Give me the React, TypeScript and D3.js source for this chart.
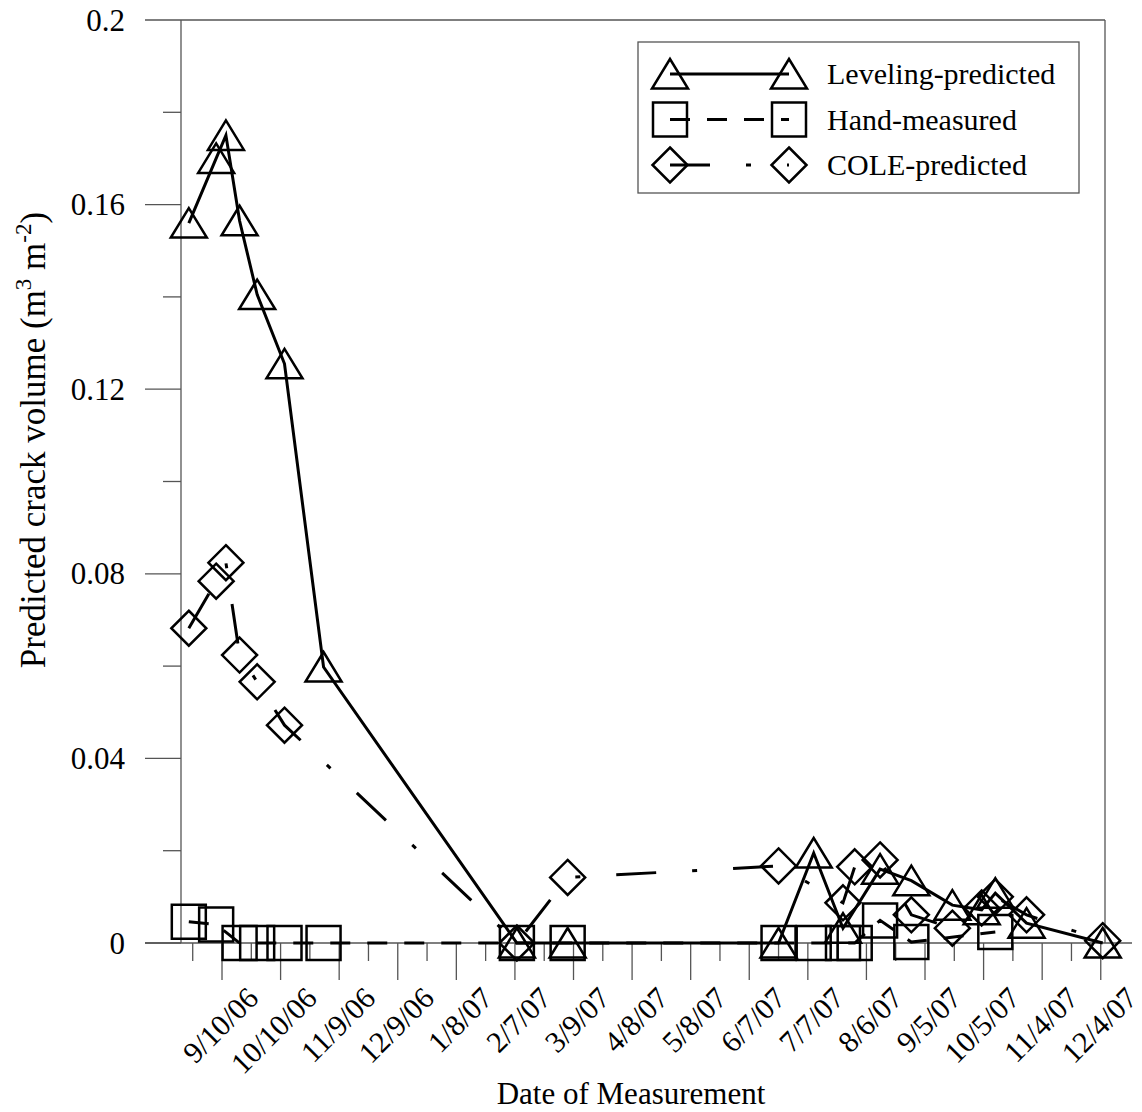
import React from "react";
import * as d3 from "d3";

// ---- data ----
const dates = [
  "2006-08-24", "2006-09-07", "2006-09-12", "2006-09-19", "2006-09-28",
  "2006-10-12", "2006-11-01", "2007-02-08", "2007-03-06", "2007-06-22",
  "2007-07-10", "2007-07-25", "2007-07-31", "2007-08-13", "2007-08-29",
  "2007-09-19", "2007-10-04", "2007-10-11", "2007-10-27", "2007-12-05",
];
const leveling: (number | null)[] = [
  0.156, 0.17, 0.175, 0.1565, 0.1405, 0.1255, 0.0598, 0, 0, 0,
  0.0195, 0.0032, null, 0.016, 0.0135, 0.0082, 0.0072, 0.0108, 0.0043, 0,
];
const handMeasured: (number | null)[] = [
  0.0046, 0.004, null, 0, 0, 0, 0, 0, 0, 0,
  0, 0, 0, 0.0049, 0.0002, null, null, 0.0024, null, null,
];
const colePredicted: (number | null)[] = [
  0.0682, 0.0784, 0.0824, 0.0624, 0.0566, 0.0472, null, 0, 0.0142, 0.0167,
  null, 0.0087, 0.0165, 0.018, 0.0061, 0.0032, 0.0076, 0.01, 0.0061, 0.0005,
];
const seriesNames = ["Leveling-predicted", "Hand-measured", "COLE-predicted"];
const xTickLabels = [
  "9/10/06", "10/10/06", "11/9/06", "12/9/06", "1/8/07", "2/7/07", "3/9/07", "4/8/07",
  "5/8/07", "6/7/07", "7/7/07", "8/6/07", "9/5/07", "10/5/07", "11/4/07", "12/4/07",
];
const yTicks = [0, 0.04, 0.08, 0.12, 0.16, 0.2];
const yTickLabels = ["0", "0.04", "0.08", "0.12", "0.16", "0.2"];
const yMinorTicks = [0.02, 0.06, 0.1, 0.14, 0.18];

const FONT = "'Liberation Serif', 'Times New Roman', serif";

function parseISO(s: string) {
  const [y, m, d] = s.split("-").map(Number);
  return new Date(y, m - 1, d);
}
function parseMDY(s: string) {
  const [m, d, y] = s.split("/").map(Number);
  return new Date(2000 + y, m - 1, d);
}

const L = 181, T = 20, B = 943, RB = 1105;
const x = d3.scaleTime().domain([new Date(2006, 7, 20), new Date(2007, 11, 20)]).range([L, 1132]);
const y = d3.scaleLinear().domain([0, 0.2]).range([B, T]);

type Shape = "tri" | "sq" | "dia";
function markerPath(shape: Shape, cx: number, cy: number) {
  if (shape === "tri") return `M${cx},${cy - 15}L${cx + 18},${cy + 14.5}L${cx - 18},${cy + 14.5}Z`;
  if (shape === "sq") return `M${cx - 17},${cy - 17}h34v34h-34Z`;
  return `M${cx},${cy - 17.5}L${cx + 17.5},${cy}L${cx},${cy + 17.5}L${cx - 17.5},${cy}Z`;
}

const styles: { shape: Shape; dash: string }[] = [
  { shape: "tri", dash: "none" },
  { shape: "sq", dash: "20 17" },
  { shape: "dia", dash: "40 36 5 36" },
];

export default function App() {
  const all = [leveling, handMeasured, colePredicted];
  const pts = all.map((vals) =>
    dates
      .map((d, i) => ({ d: parseISO(d), v: vals[i] }))
      .filter((p) => p.v !== null) as { d: Date; v: number }[]
  );
  const line = d3.line<{ d: Date; v: number }>().x((p) => x(p.d)).y((p) => y(p.v));

  const majorDates = xTickLabels.map(parseMDY);
  const minorDates: Date[] = [];
  for (let k = -1; k < 31; k++) {
    const dd = d3.timeDay.offset(majorDates[0], 15 * k);
    if (k % 2 !== 0 && x(dd) >= L && x(dd) <= 1132) minorDates.push(dd);
  }

  const axisColor = "#555";

  return (
    <svg width={1142} height={1112} style={{ display: "block", position: "absolute", left: 0, top: 0, background: "#fff" }}>
      <rect x={0} y={0} width={1142} height={1112} fill="#fff" />
      {/* frame */}
      <line x1={L} x2={RB} y1={T} y2={T} stroke={axisColor} strokeWidth={1.3} />
      <line x1={RB} x2={RB} y1={T} y2={B} stroke={axisColor} strokeWidth={1.3} />
      <line x1={L} x2={L} y1={T} y2={B} stroke={axisColor} strokeWidth={1.3} />
      <line x1={145} x2={1132} y1={B} y2={B} stroke={axisColor} strokeWidth={1.3} />
      {/* y ticks */}
      {yTicks.map((t, i) => (
        <g key={"yt" + i}>
          <line x1={145} x2={L} y1={y(t)} y2={y(t)} stroke={axisColor} strokeWidth={1.3} />
          <text x={125} y={y(t) + 10.5} textAnchor="end" fontFamily={FONT} fontSize={31}>
            {yTickLabels[i]}
          </text>
        </g>
      ))}
      {yMinorTicks.map((t, i) => (
        <line key={"ym" + i} x1={163} x2={L} y1={y(t)} y2={y(t)} stroke={axisColor} strokeWidth={1.3} />
      ))}
      {/* x ticks */}
      {majorDates.map((d, i) => (
        <g key={"xt" + i}>
          <line x1={x(d)} x2={x(d)} y1={B} y2={980} stroke={axisColor} strokeWidth={1.3} />
          <text
            transform={`translate(${x(d) + 38},1000) rotate(-45)`}
            textAnchor="end"
            fontFamily={FONT}
            fontSize={30}
          >
            {xTickLabels[i]}
          </text>
        </g>
      ))}
      {minorDates.map((d, i) => (
        <line key={"xm" + i} x1={x(d)} x2={x(d)} y1={B} y2={961} stroke={axisColor} strokeWidth={1.3} />
      ))}
      {/* axis titles */}
      <text x={631} y={1104} textAnchor="middle" fontFamily={FONT} fontSize={31}>
        Date of Measurement
      </text>
      <text transform="translate(45,440) rotate(-90)" textAnchor="middle" fontFamily={FONT} fontSize={35}>
        Predicted crack volume (m<tspan fontSize={23} dy={-14}>3</tspan>
        <tspan dy={14}> m</tspan>
        <tspan fontSize={23} dy={-14}>-2</tspan>
        <tspan dy={14}>)</tspan>
      </text>
      {/* series lines */}
      {pts.map((p, si) => (
        <path
          key={"ln" + si}
          d={line(p) || ""}
          fill="none"
          stroke="#000"
          strokeWidth={3}
          strokeDasharray={styles[si].dash}
        />
      ))}
      {/* markers */}
      {pts.map((p, si) =>
        p.map((q, j) => (
          <path
            key={"mk" + si + "-" + j}
            d={markerPath(styles[si].shape, x(q.d), y(q.v))}
            fill="none"
            stroke="#000"
            strokeWidth={2.5}
          />
        ))
      )}
      {/* legend */}
      <rect x={638} y={42} width={441} height={151} fill="#fff" stroke={axisColor} strokeWidth={1.3} />
      {seriesNames.map((name, i) => {
        const cy = 74 + i * 45.5;
        return (
          <g key={"lg" + i}>
            <line x1={670} x2={789} y1={cy} y2={cy} stroke="#000" strokeWidth={3} strokeDasharray={styles[i].dash} />
            <path d={markerPath(styles[i].shape, 670, cy)} fill="none" stroke="#000" strokeWidth={2.5} />
            <path d={markerPath(styles[i].shape, 789, cy)} fill="none" stroke="#000" strokeWidth={2.5} />
            <text x={827} y={cy + 10} fontFamily={FONT} fontSize={30}>
              {name}
            </text>
          </g>
        );
      })}
    </svg>
  );
}
